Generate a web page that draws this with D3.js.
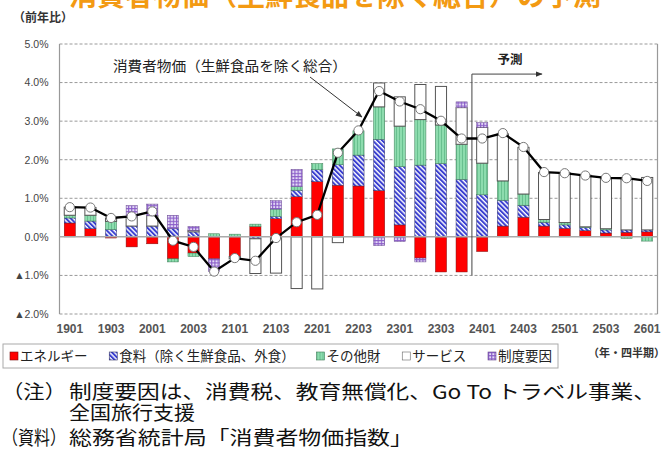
<!DOCTYPE html>
<html><head><meta charset="utf-8">
<script src="https://cdn.jsdelivr.net/npm/d3@7"></script>
<style>
html,body{margin:0;padding:0;background:#fff;}
svg{display:block;}
</style>
</head><body>
<svg id="chart" width="669" height="452"></svg>
<script>
const categories = ['1901','1902','1903','1904','2001','2002','2003','2004','2101','2102','2103','2104','2201','2202','2203','2204','2301','2302','2303','2304','2401','2402','2403','2404','2501','2502','2503','2504','2601'];
const tickLabels = ['1901','1903','2001','2003','2101','2103','2201','2203','2301','2303','2401','2403','2501','2503','2601'];
const energy   = [0.36,0.21,-0.03,-0.26,-0.18,-0.57,-0.42,-0.57,-0.51,0.27,0.47,1.04,1.43,1.34,1.32,1.20,0.31,-0.55,-0.91,-0.91,-0.38,0.28,0.51,0.28,0.22,0.16,0.10,0.12,0.13];
const food     = [0.13,0.20,0.19,0.28,0.28,0.22,0.13,0,0,-0.05,0.06,0.17,0.31,0.53,0.80,1.33,1.51,1.86,1.90,1.49,1.09,0.67,0.31,0.10,0.09,0.08,0.08,0.06,0.05];
const other    = [0.07,0.15,0.21,0,0,-0.08,-0.09,0.08,0.07,0.06,0.19,0.09,0.16,0.41,0.63,0.84,1.05,1.18,1.00,0.91,0.82,0.50,0.29,0.07,0.06,0.02,0.03,-0.04,-0.11];
const services = [0.21,0.20,0.09,0.24,0.27,0,0.04,0,-0.06,-0.90,-0.94,-1.34,-1.35,-0.15,0,0.62,0.76,0.91,1.00,0.95,0.93,1.22,1.21,1.22,1.29,1.34,1.31,1.33,1.36];
const institutional = [0,0,0,0.29,0.30,0.34,0.10,-0.33,0,0,0.22,0.45,0,0,0,-0.23,-0.12,-0.10,0,0.15,0.12,0,0,0,0,0,0,0,0];
const coreCPI  = [0.77,0.76,0.49,0.53,0.66,-0.10,-0.26,-0.90,-0.55,-0.62,-0.03,0.38,0.57,2.18,2.76,3.78,3.51,3.31,3.01,2.55,2.55,2.69,2.33,1.68,1.65,1.59,1.53,1.52,1.45];
const yTicks = [5,4,3,2,1,0,-1,-2];
const seriesNames = ['エネルギー','食料（除く生鮮食品、外食）','その他財','サービス','制度要因'];
const seriesData = [energy, food, other, services, institutional];
const seriesFill = ['#ff0000','url(#pFood)','url(#pOther)','#ffffff','url(#pInst)'];
const seriesStroke = ['#7a1010','#333366','#3c7a55','#555555','#6a4a90'];

const svg = d3.select('#chart');
const FONT = "'Liberation Sans', Arial, 'Noto Sans CJK JP', sans-serif";
const JFONT = "'Noto Sans CJK JP', sans-serif";

// patterns
const defs = svg.append('defs');
const pf = defs.append('pattern').attr('id','pFood').attr('width',3.4).attr('height',3.4)
  .attr('patternUnits','userSpaceOnUse').attr('patternTransform','rotate(-45)');
pf.append('rect').attr('width',3.4).attr('height',3.4).attr('fill','#ffffff');
pf.append('rect').attr('width',2).attr('height',3.4).attr('fill','#3a3fd0');
const po = defs.append('pattern').attr('id','pOther').attr('width',3).attr('height',3)
  .attr('patternUnits','userSpaceOnUse');
po.append('rect').attr('width',3).attr('height',3).attr('fill','#8ddcae');
po.append('rect').attr('width',0.8).attr('height',3).attr('fill','#5fb987');
const pi = defs.append('pattern').attr('id','pInst').attr('width',3.2).attr('height',3.2)
  .attr('patternUnits','userSpaceOnUse');
pi.append('rect').attr('width',3.2).attr('height',3.2).attr('fill','#e4dcf6');
pi.append('rect').attr('width',1.1).attr('height',3.2).attr('fill','#8a5cc8');
pi.append('rect').attr('width',3.2).attr('height',1.1).attr('fill','#8a5cc8');
defs.append('marker').attr('id','arrow').attr('viewBox','0 0 10 10').attr('refX',9).attr('refY',5)
  .attr('markerWidth',7).attr('markerHeight',7).attr('orient','auto-start-reverse')
  .append('path').attr('d','M0,1 L10,5 L0,9 z').attr('fill','#333');

const L = 59.5, R = 657.5;
const x = d3.scaleBand().domain(categories).range([L, R]).paddingInner(0.46).paddingOuter(0.23);
const y = d3.scaleLinear().domain([-2, 5]).range([314, 44]);
const bw = x.bandwidth();

// title (cut off at top, as in the reference)
svg.append('text').attr('x', 335).attr('y', 6).attr('text-anchor','middle')
  .attr('font-family', JFONT).attr('font-weight', 700).attr('font-size', 28).attr('fill', '#f39a12')
  .text('消費者物価（生鮮食品を除く総合）の予測');

svg.append('text').attr('x', 13).attr('y', 22).attr('font-family', JFONT).attr('font-weight', 700)
  .attr('font-size', 12).attr('fill', '#333').text('（前年比）');

// grid
const g = svg.append('g');
yTicks.forEach(t => {
  if (t === 0) return;
  g.append('line').attr('x1', L).attr('x2', R).attr('y1', y(t)).attr('y2', y(t))
    .attr('stroke', '#999').attr('stroke-width', 1).attr('stroke-dasharray', '3,2');
});
g.append('line').attr('x1', L).attr('x2', L).attr('y1', y(5)).attr('y2', y(-2)).attr('stroke', '#999').attr('stroke-width', 1.2);
g.append('line').attr('x1', R).attr('x2', R).attr('y1', y(5)).attr('y2', y(-2)).attr('stroke', '#999').attr('stroke-width', 1.2);

// y labels
const yAxis = d3.axisLeft(y).tickValues(yTicks).tickSize(0).tickPadding(0)
  .tickFormat(d => (d < 0 ? '▲' + Math.abs(d).toFixed(1) : d.toFixed(1)) + '%');
const ya = svg.append('g').attr('transform', `translate(${L - 11},0)`).call(yAxis);
ya.select('.domain').remove();
ya.selectAll('text').attr('font-family', FONT).attr('font-size', 10.5).attr('fill', '#444');

// x labels
const xAxis = d3.axisBottom(x).tickValues(tickLabels).tickSize(0).tickPadding(0);
const xa = svg.append('g').attr('transform', `translate(0,${y(-2) + 10})`).call(xAxis);
xa.select('.domain').remove();
xa.selectAll('text').attr('font-family', FONT).attr('font-size', 12).attr('font-weight', 700).attr('fill', '#555');

// stacked bars
const bars = svg.append('g');
categories.forEach((c, i) => {
  let pos = 0, neg = 0;
  seriesData.forEach((s, k) => {
    const v = s[i];
    if (!v) return;
    let a, b;
    if (v > 0) { a = pos; b = pos + v; pos = b; } else { a = neg + v; b = neg; neg = a; }
    bars.append('rect').attr('x', x(c)).attr('width', bw)
      .attr('y', y(b)).attr('height', y(a) - y(b))
      .attr('fill', seriesFill[k]).attr('stroke', seriesStroke[k]).attr('stroke-width', k === 3 ? 1 : 0.5);
  });
});

// zero line
svg.append('line').attr('x1', L).attr('x2', R).attr('y1', y(0)).attr('y2', y(0))
  .attr('stroke', '#aaa').attr('stroke-width', 1.5);

// forecast bracket
const fx = x('2401') + bw / 2 - x.step() / 2;
svg.append('path').attr('d', `M${fx},${y(-1)} L${fx},${y(4.22)} L${fx + 70},${y(4.22)}`)
  .attr('fill', 'none').attr('stroke', '#444').attr('stroke-width', 1).attr('marker-end', 'url(#arrow)');
svg.append('text').attr('x', fx + 38).attr('y', 64).attr('text-anchor', 'middle')
  .attr('font-family', JFONT).attr('font-weight', 700).attr('font-size', 12.5).attr('fill', '#222').text('予測');

// line
const line = d3.line().x((d, i) => x(categories[i]) + bw / 2).y(d => y(d));
svg.append('path').datum(coreCPI).attr('d', line).attr('fill', 'none').attr('stroke', '#000').attr('stroke-width', 2.3);
svg.append('g').selectAll('circle').data(coreCPI).join('circle')
  .attr('cx', (d, i) => x(categories[i]) + bw / 2).attr('cy', d => y(d)).attr('r', 4.6)
  .attr('fill', '#fff').attr('stroke', '#777').attr('stroke-width', 1);

// annotation
svg.append('text').attr('x', 113).attr('y', 71).attr('font-family', JFONT).attr('font-size', 14.2)
  .attr('textLength', 234).attr('lengthAdjust', 'spacingAndGlyphs')
  .attr('fill', '#222').text('消費者物価（生鮮食品を除く総合）');
svg.append('line').attr('x1', 310).attr('y1', 77).attr('x2', 362).attr('y2', 117)
  .attr('stroke', '#333').attr('stroke-width', 1).attr('marker-end', 'url(#arrow)');

// legend
const lg = svg.append('g');
const lgY = 361, lgL = 10, lgR = 552;
const items = seriesNames.map((n, k) => {
  const gi = lg.append('g');
  gi.append('rect').attr('width', 8).attr('height', 8).attr('y', lgY - 9)
    .attr('fill', seriesFill[k]).attr('stroke', k === 3 ? '#666' : seriesStroke[k]).attr('stroke-width', 0.6);
  const t = gi.append('text').attr('x', 10).attr('y', lgY).attr('font-family', JFONT).attr('font-size', 13.5)
    .attr('fill', '#222').text(n);
  return { gi, w: 10 + t.node().getComputedTextLength() };
});
const totalW = items.reduce((s, d) => s + d.w, 0);
const gap = (lgR - lgL - totalW) / (items.length - 1);
let cx = lgL;
items.forEach(d => { d.gi.attr('transform', `translate(${cx},0)`); cx += d.w + gap; });
lg.insert('rect', ':first-child').attr('x', 3).attr('y', 344).attr('width', 555).attr('height', 24)
  .attr('fill', '#fff').attr('stroke', '#aaa').attr('stroke-width', 1);

svg.append('text').attr('x', 665).attr('y', 357).attr('text-anchor', 'end').attr('font-family', JFONT)
  .attr('font-weight', 700).attr('font-size', 11).attr('fill', '#333').text('（年・四半期）');

// notes
const nfs = 19;
const note = (xx, yy, txt, len) => {
  const t = svg.append('text').attr('x', xx).attr('y', yy).attr('font-family', JFONT).attr('font-size', nfs)
    .attr('fill', '#111').text(txt);
  if (len) t.attr('textLength', len).attr('lengthAdjust', 'spacingAndGlyphs');
  return t;
};
note(2, 399, '（注）', 64);
note(69, 399, '制度要因は、消費税、教育無償化、Go To トラベル事業、', 587);
note(69, 420, '全国旅行支援', 126);
note(2, 445, '（資料）', 64);
note(69, 445, '総務省統計局「消費者物価指数」', 344);
</script>
</body></html>
